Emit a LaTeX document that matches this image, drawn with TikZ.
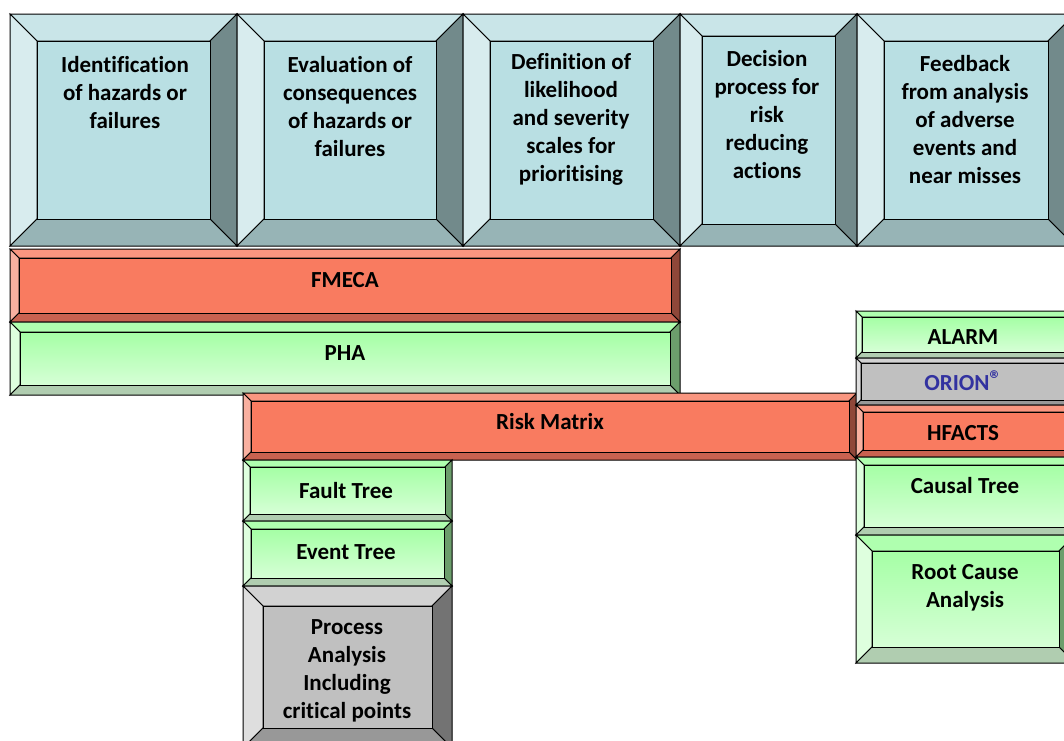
\documentclass[tikz,border=0pt]{standalone}
\usepackage{fontspec}
\setmainfont[Ligatures=NoCommon]{Carlito}
\definecolor{tqIn}{RGB}{185,223,227}
\definecolor{tqTop}{RGB}{201,229,232}
\definecolor{tqLeft}{RGB}{216,236,238}
\definecolor{tqRight}{RGB}{114,138,139}
\definecolor{tqBot}{RGB}{151,180,182}
\definecolor{rdIn}{RGB}{249,123,96}
\definecolor{rdTop}{RGB}{249,150,128}
\definecolor{rdLeft}{RGB}{249,176,160}
\definecolor{rdRight}{RGB}{143,71,57}
\definecolor{rdBot}{RGB}{201,98,80}
\definecolor{grInA}{RGB}{165,255,165}
\definecolor{grInB}{RGB}{214,255,214}
\definecolor{grTopA}{RGB}{175,255,175}
\definecolor{grLeft}{RGB}{222,255,222}
\definecolor{grRight}{RGB}{108,158,108}
\definecolor{grBot}{RGB}{176,205,176}
\definecolor{gyIn}{RGB}{192,192,192}
\definecolor{gyTop}{RGB}{210,210,210}
\definecolor{gyLeft}{RGB}{222,222,222}
\definecolor{gyRight}{RGB}{115,115,115}
\definecolor{gyBot}{RGB}{152,152,152}
\definecolor{orionblue}{RGB}{50,50,160}
\tikzset{
  face/.style={draw=black,line width=1pt,line join=miter},
  tqIn/.style={fill=tqIn}, tqTop/.style={fill=tqTop}, tqLeft/.style={fill=tqLeft},
  tqRight/.style={fill=tqRight}, tqBot/.style={fill=tqBot},
  rdIn/.style={fill=rdIn}, rdTop/.style={fill=rdTop}, rdLeft/.style={fill=rdLeft},
  rdRight/.style={fill=rdRight}, rdBot/.style={fill=rdBot},
  grIn/.style={top color=grInA,bottom color=grInB},
  grTop/.style={fill=grTopA}, grLeft/.style={fill=grLeft},
  grRight/.style={fill=grRight}, grBot/.style={fill=grBot},
  gyIn/.style={fill=gyIn}, gyTop/.style={fill=gyTop}, gyLeft/.style={fill=gyLeft},
  gyRight/.style={fill=gyRight}, gyBot/.style={fill=gyBot},
  lbl/.style={font=\fontsize{23}{28}\selectfont\bfseries,align=center,inner sep=0pt,text=black}
}
% #1 x1, #2 y1, #3 x2, #4 y2, #5 bevel, #6 scheme
\newcommand\bevbox[6]{%
  \pgfmathsetmacro\bxA{#1}\pgfmathsetmacro\byA{#2}%
  \pgfmathsetmacro\bxB{#3}\pgfmathsetmacro\byB{#4}%
  \pgfmathsetmacro\bxC{#1+#5}\pgfmathsetmacro\byC{#2+#5}%
  \pgfmathsetmacro\bxD{#3-#5}\pgfmathsetmacro\byD{#4-#5}%
  \path[#6Top,face] (\bxA,\byA) -- (\bxB,\byA) -- (\bxD,\byC) -- (\bxC,\byC) -- cycle;
  \path[#6Left,face] (\bxA,\byA) -- (\bxC,\byC) -- (\bxC,\byD) -- (\bxA,\byB) -- cycle;
  \path[#6Right,face] (\bxB,\byA) -- (\bxB,\byB) -- (\bxD,\byD) -- (\bxD,\byC) -- cycle;
  \path[#6Bot,face] (\bxA,\byB) -- (\bxB,\byB) -- (\bxD,\byD) -- (\bxC,\byD) -- cycle;
  \path[#6In,face] (\bxC,\byC) rectangle (\bxD,\byD);
}
\begin{document}
\begin{tikzpicture}[x=1pt,y=-1pt]
\useasboundingbox (0,0) rectangle (1064,740);
\clip (0,0) rectangle (1064,740);
\fill[white] (0,0) rectangle (1064,740);
% top row
\bevbox{10}{14}{237}{246}{27}{tq}
\bevbox{237}{14}{463}{246}{27}{tq}
\bevbox{463}{14}{680}{246}{27}{tq}
\bevbox{680}{14}{857}{246}{22}{tq}
\bevbox{857}{14}{1075}{246}{27}{tq}
\node[lbl] (ident) at (125,93) {Identification\\of hazards or\\failures};
\node[lbl] (evalc) at (350,107) {Evaluation of\\consequences\\of hazards or\\failures};
\node[lbl] (defin) at (571,119) {Definition of\\likelihood\\and severity\\scales for\\prioritising};
\node[lbl] (decis) at (767,115) {Decision\\process for\\risk\\reducing\\actions};
\node[lbl] (feedb) at (965,120) {Feedback\\from analysis\\of adverse\\events and\\near misses};
% bars
\bevbox{10}{249}{680}{322}{9}{rd}
\node[lbl] (fmeca) at (345,280) {FMECA};
\bevbox{10}{322}{680}{395}{10}{gr}
\node[lbl] (pha) at (345,353) {PHA};
\bevbox{243}{393}{857}{460}{8}{rd}
\node[lbl] (risk) at (550,422) {Risk Matrix};
% left column
\bevbox{243}{460}{452}{521}{7}{gr}
\node[lbl] (fault) at (346,491) {Fault Tree};
\bevbox{243}{521}{452}{586}{8}{gr}
\node[lbl] (event) at (346,552) {Event Tree};
\bevbox{243}{586}{452}{748}{20}{gy}
\node[lbl] (proc) at (347,671) {Process\\Analysis\\Including\\critical points};
% right column
\bevbox{856}{311}{1075}{358}{6}{gr}
\node[lbl] (alarm) at (963,337) {ALARM};
\bevbox{856}{358}{1075}{405}{5}{gy}
\node[lbl,text=orionblue] (orion) at (963,381) {ORION\raisebox{0.12em}{\fontsize{24}{24}\selectfont ®}};
\bevbox{856}{405}{1075}{457}{7}{rd}
\node[lbl] (hfacts) at (963,433) {HFACTS};
\bevbox{856}{457}{1075}{535}{8}{gr}
\node[lbl] (causal) at (965,486) {Causal Tree};
\bevbox{856}{535}{1075}{663}{16}{gr}
\node[lbl] (root) at (965,588) {Root Cause\\Analysis};
\end{tikzpicture}
\end{document}
